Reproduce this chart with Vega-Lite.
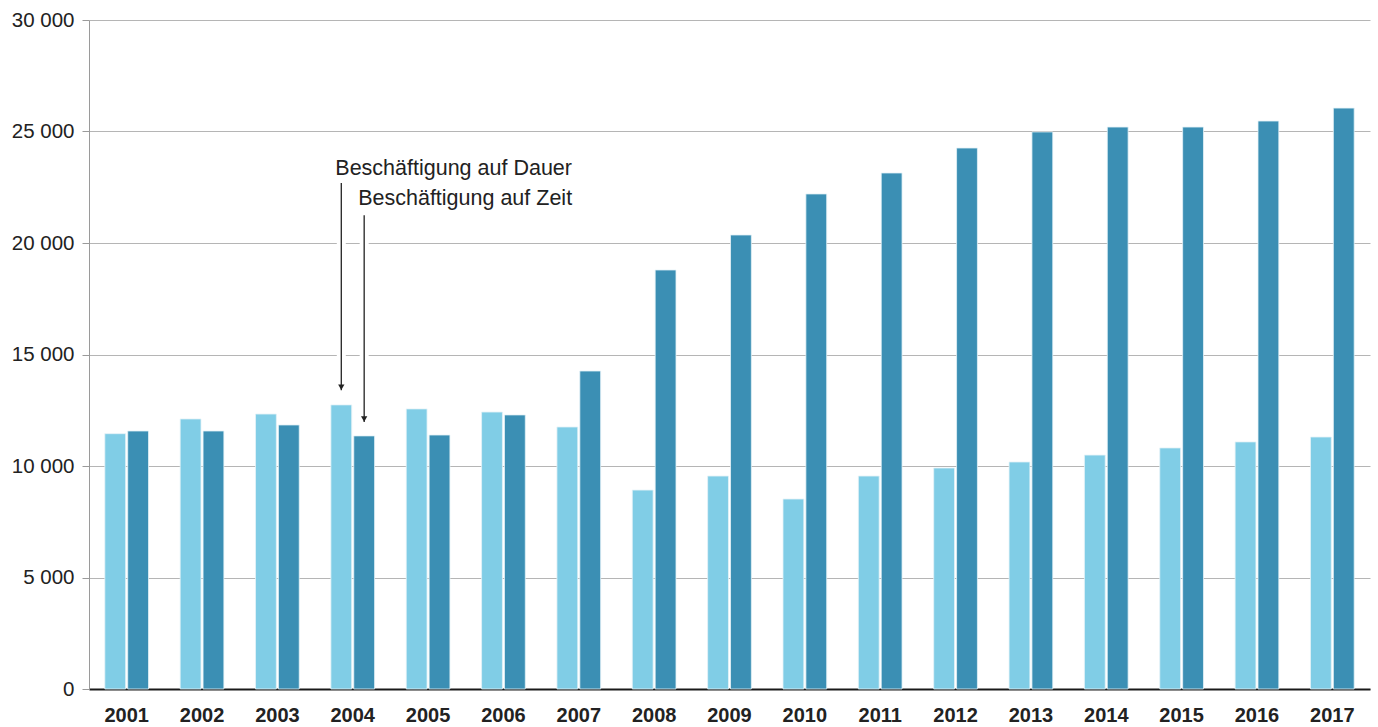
{
  "$schema": "https://vega.github.io/schema/vega-lite/v6.json",
  "autosize": "none",
  "width": 1281,
  "height": 669,
  "padding": {"left": 89, "top": 20, "right": 8, "bottom": 38},
  "background": "white",
  "config": {
    "view": {"stroke": null},
    "font": "Liberation Sans",
    "axis": {"labelFont": "Liberation Sans", "labelColor": "#222222"}
  },
  "datasets": {
    "bars": [
      {"Jahr": "2001", "Art": "Beschäftigung auf Dauer", "Wert": 11450},
      {"Jahr": "2001", "Art": "Beschäftigung auf Zeit", "Wert": 11570},
      {"Jahr": "2002", "Art": "Beschäftigung auf Dauer", "Wert": 12110},
      {"Jahr": "2002", "Art": "Beschäftigung auf Zeit", "Wert": 11570},
      {"Jahr": "2003", "Art": "Beschäftigung auf Dauer", "Wert": 12330},
      {"Jahr": "2003", "Art": "Beschäftigung auf Zeit", "Wert": 11840},
      {"Jahr": "2004", "Art": "Beschäftigung auf Dauer", "Wert": 12740},
      {"Jahr": "2004", "Art": "Beschäftigung auf Zeit", "Wert": 11350},
      {"Jahr": "2005", "Art": "Beschäftigung auf Dauer", "Wert": 12560},
      {"Jahr": "2005", "Art": "Beschäftigung auf Zeit", "Wert": 11390},
      {"Jahr": "2006", "Art": "Beschäftigung auf Dauer", "Wert": 12420},
      {"Jahr": "2006", "Art": "Beschäftigung auf Zeit", "Wert": 12290},
      {"Jahr": "2007", "Art": "Beschäftigung auf Dauer", "Wert": 11750},
      {"Jahr": "2007", "Art": "Beschäftigung auf Zeit", "Wert": 14260},
      {"Jahr": "2008", "Art": "Beschäftigung auf Dauer", "Wert": 8920},
      {"Jahr": "2008", "Art": "Beschäftigung auf Zeit", "Wert": 18790},
      {"Jahr": "2009", "Art": "Beschäftigung auf Dauer", "Wert": 9550},
      {"Jahr": "2009", "Art": "Beschäftigung auf Zeit", "Wert": 20360},
      {"Jahr": "2010", "Art": "Beschäftigung auf Dauer", "Wert": 8520},
      {"Jahr": "2010", "Art": "Beschäftigung auf Zeit", "Wert": 22200},
      {"Jahr": "2011", "Art": "Beschäftigung auf Dauer", "Wert": 9550},
      {"Jahr": "2011", "Art": "Beschäftigung auf Zeit", "Wert": 23140},
      {"Jahr": "2012", "Art": "Beschäftigung auf Dauer", "Wert": 9910},
      {"Jahr": "2012", "Art": "Beschäftigung auf Zeit", "Wert": 24260},
      {"Jahr": "2013", "Art": "Beschäftigung auf Dauer", "Wert": 10180},
      {"Jahr": "2013", "Art": "Beschäftigung auf Zeit", "Wert": 24980},
      {"Jahr": "2014", "Art": "Beschäftigung auf Dauer", "Wert": 10490},
      {"Jahr": "2014", "Art": "Beschäftigung auf Zeit", "Wert": 25200},
      {"Jahr": "2015", "Art": "Beschäftigung auf Dauer", "Wert": 10810},
      {"Jahr": "2015", "Art": "Beschäftigung auf Zeit", "Wert": 25200},
      {"Jahr": "2016", "Art": "Beschäftigung auf Dauer", "Wert": 11080},
      {"Jahr": "2016", "Art": "Beschäftigung auf Zeit", "Wert": 25470},
      {"Jahr": "2017", "Art": "Beschäftigung auf Dauer", "Wert": 11300},
      {"Jahr": "2017", "Art": "Beschäftigung auf Zeit", "Wert": 26050}
    ],
    "notes": [
      {"Jahr": "2004", "Art": "Beschäftigung auf Dauer", "Text": "Beschäftigung auf Dauer", "TextY": 23050, "Start": 22690, "Ende": 13400},
      {"Jahr": "2004", "Art": "Beschäftigung auf Zeit", "Text": "Beschäftigung auf Zeit", "TextY": 21700, "Start": 21250, "Ende": 11970}
    ]
  },
  "encoding": {
    "x": {
      "field": "Jahr", "type": "nominal", "title": null,
      "scale": {"paddingInner": 0.42, "paddingOuter": 0.21},
      "axis": {
        "orient": "bottom", "ticks": false, "labelAngle": 0,
        "labelFontSize": 20, "labelFontWeight": "bold", "labelPadding": 16,
        "domainColor": "#1a1a1a", "domainWidth": 2, "grid": false
      }
    },
    "xOffset": {
      "field": "Art", "type": "nominal",
      "sort": ["Beschäftigung auf Dauer", "Beschäftigung auf Zeit"],
      "scale": {"paddingInner": 0.09, "paddingOuter": 0}
    }
  },
  "layer": [
    {
      "data": {"name": "bars"},
      "mark": {"type": "bar", "stroke": "#e4f3f8", "strokeWidth": 0.8},
      "encoding": {
        "y": {
          "field": "Wert", "type": "quantitative", "title": null,
          "scale": {"domain": [0, 30000], "nice": false},
          "axis": {
            "values": [0, 5000, 10000, 15000, 20000, 25000, 30000],
            "labelExpr": "replace(format(datum.value, ','), ',', ' ')",
            "labelFontSize": 20.5, "labelPadding": 8,
            "tickSize": 7, "tickColor": "#9a9a9a", "tickWidth": 1,
            "domainColor": "#9a9a9a", "domainWidth": 1,
            "grid": true, "gridColor": "#b5b5b5", "gridWidth": 1.2,
            "gridExtent": "grid"
          }
        },
        "color": {
          "field": "Art", "type": "nominal",
          "scale": {"domain": ["Beschäftigung auf Dauer", "Beschäftigung auf Zeit"], "range": ["#80cde6", "#3b8fb4"]},
          "legend": null
        }
      }
    },
    {
      "data": {"name": "notes"},
      "mark": {"type": "rule", "color": "white", "strokeWidth": 9},
      "encoding": {"y": {"field": "Start", "type": "quantitative"}, "y2": {"field": "Ende"}}
    },
    {
      "data": {"name": "notes"},
      "mark": {"type": "rule", "color": "#222222", "strokeWidth": 1.3},
      "encoding": {"y": {"field": "Start", "type": "quantitative"}, "y2": {"field": "Ende"}}
    },
    {
      "data": {"name": "notes"},
      "mark": {"type": "point", "shape": "triangle-down", "filled": true, "color": "#222222", "size": 40, "opacity": 1, "yOffset": -3},
      "encoding": {"y": {"field": "Ende", "type": "quantitative"}}
    },
    {
      "data": {"name": "notes"},
      "mark": {"type": "text", "align": "left", "baseline": "alphabetic", "dx": -6, "fontSize": 21.5, "color": "#222222", "font": "Liberation Sans"},
      "encoding": {"y": {"field": "TextY", "type": "quantitative"}, "text": {"field": "Text"}}
    }
  ]
}
